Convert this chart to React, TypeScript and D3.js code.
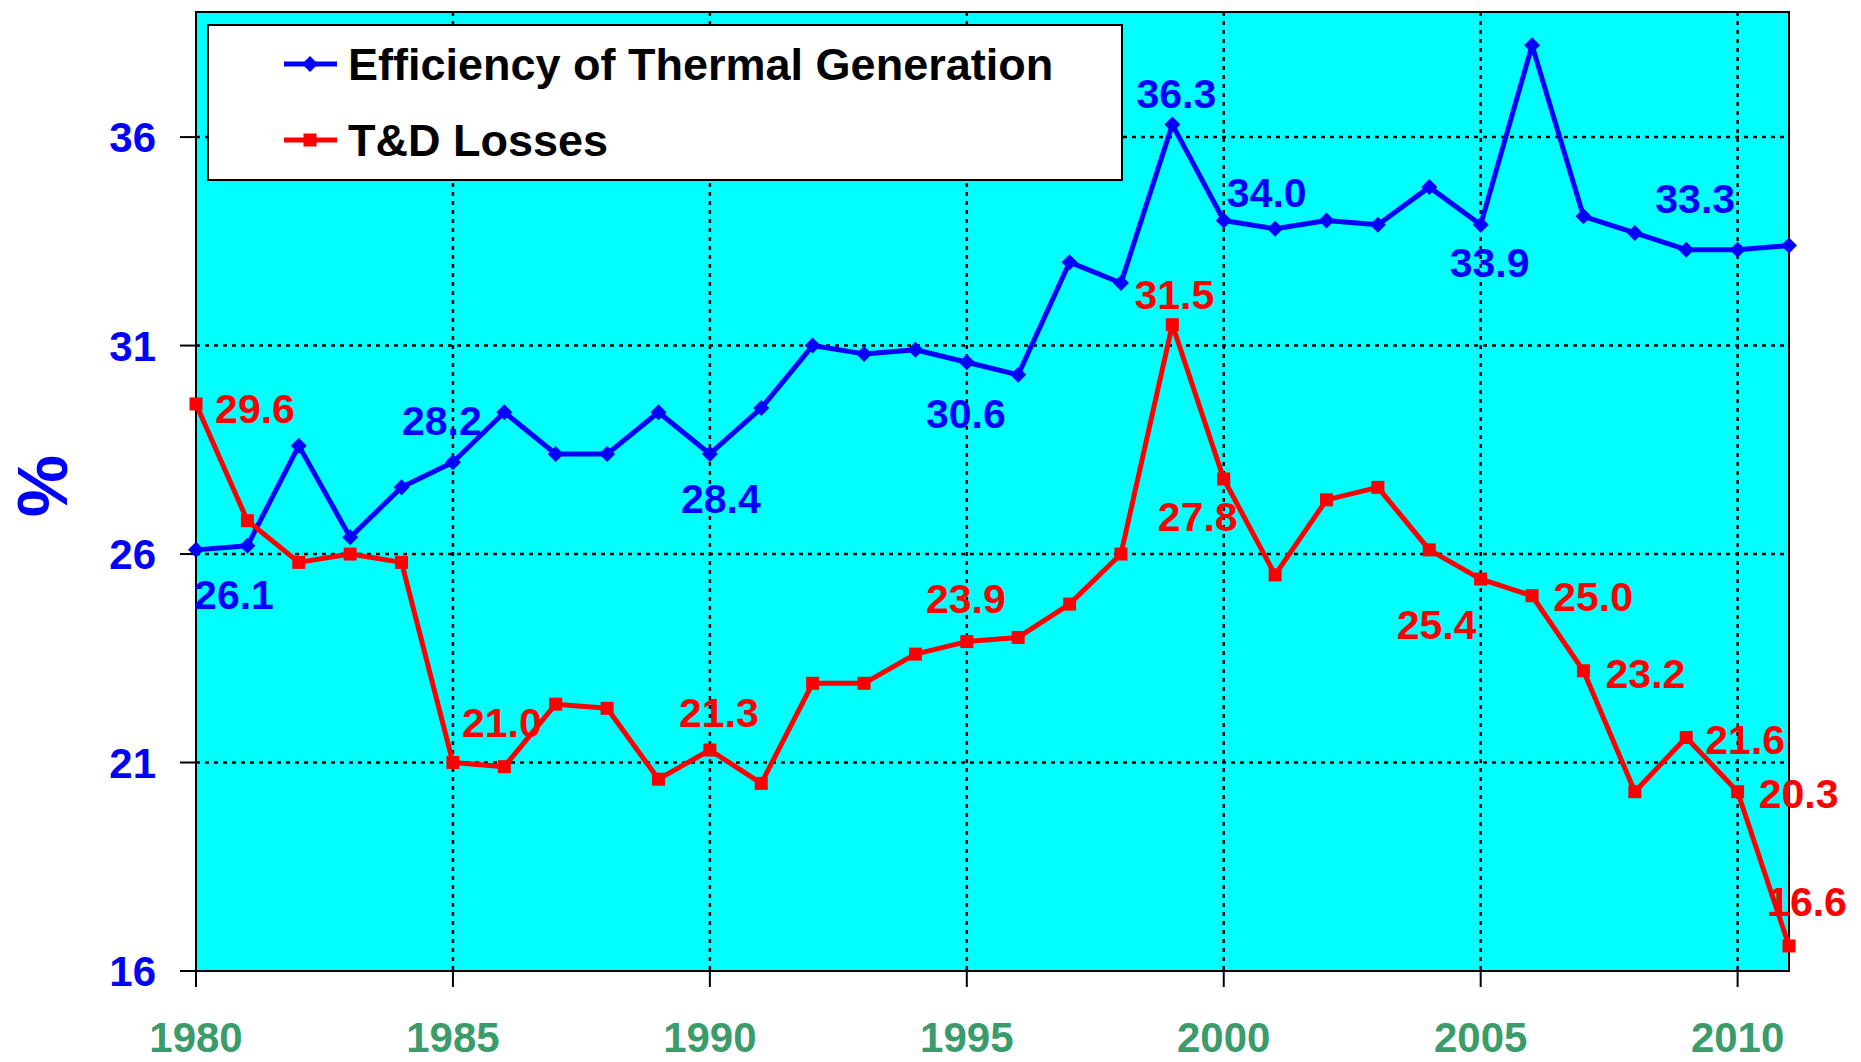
import React from "react";
import * as d3 from "d3";

const years = d3.range(1980, 2012);
const efficiency = [26.1, 26.2, 28.6, 26.4, 27.6, 28.2, 29.4, 28.4, 28.4, 29.4, 28.4, 29.5, 31.0, 30.8, 30.9, 30.6, 30.3, 33.0, 32.5, 36.3, 34.0, 33.8, 34.0, 33.9, 34.8, 33.9, 38.2, 34.1, 33.7, 33.3, 33.3, 33.4];
const losses = [29.6, 26.8, 25.8, 26.0, 25.8, 21.0, 20.9, 22.4, 22.3, 20.6, 21.3, 20.5, 22.9, 22.9, 23.6, 23.9, 24.0, 24.8, 26.0, 31.5, 27.8, 25.5, 27.3, 27.6, 26.1, 25.4, 25.0, 23.2, 20.3, 21.6, 20.3, 16.6];
const yTicks = [16, 21, 26, 31, 36];
const xTicks = [1980, 1985, 1990, 1995, 2000, 2005, 2010];
const seriesNames = ["Efficiency of Thermal Generation", "T&D Losses"];
const effLabelYears = [1980, 1985, 1990, 1995, 1999, 2000, 2005, 2009];
const lossLabelYears = [1980, 1985, 1990, 1995, 1999, 2000, 2005, 2006, 2007, 2009, 2010, 2011];

// label placement offsets (px), styling only
const effOffsets: Record<number, [number, number]> = {
  1980: [38, 44], 1985: [-11, -42], 1990: [11, 44], 1995: [-1, 51],
  1999: [4, -31], 2000: [43, -28], 2005: [9, 38], 2009: [9, -51],
};
const lossOffsets: Record<number, [number, number]> = {
  1980: [59, 4], 1985: [49, -40], 1990: [9, -38], 1995: [-1, -43],
  1999: [2, -30], 2000: [-26, 37], 2005: [-44, 45], 2006: [61, 1],
  2007: [62, 2], 2009: [59, 2], 2010: [61, 2], 2011: [18, -45],
};

const W = 1861, H = 1062;
const L = 196, R = 1789, T = 12, B = 971;
const FONT = "'Liberation Sans', Arial, Helvetica, sans-serif";
const BLUE = "#0000ff", RED = "#ff0000", GREEN = "#3a9b6b";

export default function App() {
  const x = d3.scaleLinear().domain([1980, 2011]).range([L, R]);
  const y = d3.scaleLinear().domain([16, 39]).range([B, T]);
  const line = d3.line<number>().x((_, i) => x(years[i])).y((d) => y(d));
  const diamond = (cx: number, cy: number, r: number) => `M${cx},${cy - r}L${cx + r},${cy}L${cx},${cy + r}L${cx - r},${cy}Z`;

  return (
    <svg width={W} height={H} style={{ position: "absolute", left: 0, top: 0, display: "block" }} fontFamily={FONT}>
      <rect x={L} y={T} width={R - L} height={B - T} fill="#00ffff" />
      {/* grid */}
      {yTicks.filter((t) => t !== 16).map((t) => (
        <line key={"gy" + t} x1={L} x2={R} y1={y(t)} y2={y(t)} stroke="#000" strokeWidth={2.5} strokeDasharray="4,5" />
      ))}
      {xTicks.filter((t) => t !== 1980).map((t) => (
        <line key={"gx" + t} x1={x(t)} x2={x(t)} y1={T} y2={B} stroke="#000" strokeWidth={2.5} strokeDasharray="4,5" />
      ))}
      <rect x={L} y={T} width={R - L} height={B - T} fill="none" stroke="#000" strokeWidth={2} />
      {/* ticks */}
      {yTicks.map((t) => (
        <g key={"ty" + t}>
          <line x1={L - 16} x2={L} y1={y(t)} y2={y(t)} stroke="#000" strokeWidth={2} />
          <text x={156} y={y(t)} dy="0.36em" textAnchor="end" fontSize={42} fontWeight="bold" fill={BLUE}>{t}</text>
        </g>
      ))}
      {xTicks.map((t) => (
        <g key={"tx" + t}>
          <line x1={x(t)} x2={x(t)} y1={B} y2={B + 16} stroke="#000" strokeWidth={2} />
          <text x={x(t)} y={1052} textAnchor="middle" fontSize={42} fontWeight="bold" fill={GREEN}>{t}</text>
        </g>
      ))}
      <text transform={`translate(67,486) rotate(-90)`} textAnchor="middle" fontSize={70} fontWeight="bold" fill={BLUE}>%</text>
      {/* lines */}
      <path d={line(efficiency) || ""} fill="none" stroke={BLUE} strokeWidth={5} strokeLinejoin="round" />
      <path d={line(losses) || ""} fill="none" stroke={RED} strokeWidth={5} strokeLinejoin="round" />
      {efficiency.map((v, i) => (
        <path key={"e" + i} d={diamond(x(years[i]), y(v), 8)} fill={BLUE} />
      ))}
      {losses.map((v, i) => (
        <rect key={"l" + i} x={x(years[i]) - 6.5} y={y(v) - 6.5} width={13} height={13} fill={RED} />
      ))}
      {/* data labels */}
      {effLabelYears.map((yr) => {
        const i = yr - 1980;
        const [dx, dy] = effOffsets[yr];
        return (
          <text key={"el" + yr} x={x(yr) + dx} y={y(efficiency[i]) + dy} dy="0.36em" textAnchor="middle" fontSize={41} fontWeight="bold" fill={BLUE}>
            {efficiency[i].toFixed(1)}
          </text>
        );
      })}
      {lossLabelYears.map((yr) => {
        const i = yr - 1980;
        const [dx, dy] = lossOffsets[yr];
        return (
          <text key={"ll" + yr} x={x(yr) + dx} y={y(losses[i]) + dy} dy="0.36em" textAnchor="middle" fontSize={41} fontWeight="bold" fill={RED}>
            {losses[i].toFixed(1)}
          </text>
        );
      })}
      {/* legend */}
      <rect x={208} y={25} width={914} height={155} fill="#fff" stroke="#000" strokeWidth={2} />
      <line x1={284} x2={337} y1={64} y2={64} stroke={BLUE} strokeWidth={5} />
      <path d={diamond(310, 64, 8)} fill={BLUE} />
      <text x={348} y={64} dy="0.36em" fontSize={45} fontWeight="bold" fill="#000">{seriesNames[0]}</text>
      <line x1={284} x2={337} y1={140} y2={140} stroke={RED} strokeWidth={5} />
      <rect x={303.5} y={133.5} width={13} height={13} fill={RED} />
      <text x={348} y={140} dy="0.36em" fontSize={45} fontWeight="bold" fill="#000">{seriesNames[1]}</text>
    </svg>
  );
}
